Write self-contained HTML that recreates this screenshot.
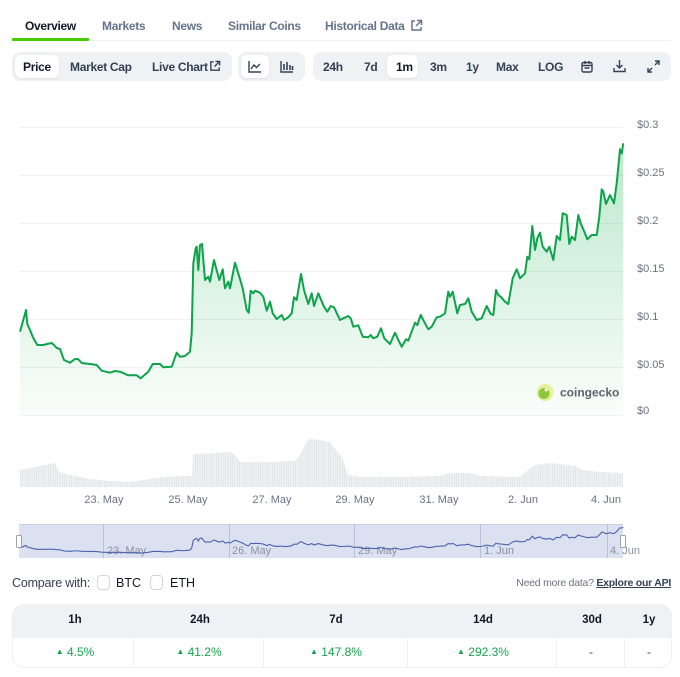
<!DOCTYPE html>
<html><head><meta charset="utf-8"><style>
*{box-sizing:border-box;margin:0;padding:0}
body{width:680px;height:677px;background:#fff;overflow:hidden;position:relative;font-family:"Liberation Sans",sans-serif;color:#1f2937}
.a{position:absolute;white-space:nowrap}
.tab{top:18px;font-size:12px;letter-spacing:-0.3px;font-weight:700;color:#64748b;line-height:16px}
.grp{background:#eff2f5;border-radius:8px;top:52px;height:29px}
.btn{top:55px;height:23px;background:#fff;border-radius:6px;box-shadow:0 1px 2px rgba(0,0,0,.08)}
.bt{top:59px;font-size:12px;letter-spacing:-0.3px;font-weight:700;color:#334155;line-height:16px}
.yl{font-size:11px;color:#6b7280;left:637px;line-height:12px}
.th{font-size:11.5px;font-weight:700;color:#111827;top:613px;line-height:14px;transform:translateX(-50%)}
.td{font-size:12px;color:#16a34a;top:645px;line-height:14px;transform:translateX(-50%)}
</style></head><body>

<!-- tabs -->
<div class="a tab" style="left:25px;color:#111827">Overview</div>
<div class="a tab" style="left:102px">Markets</div>
<div class="a tab" style="left:172px">News</div>
<div class="a tab" style="left:228px">Similar Coins</div>
<div class="a tab" style="left:325px">Historical Data</div>
<svg class="a" style="left:410px;top:19px" width="13" height="13" viewBox="0 0 13 13"><path d="M5 2H2v9h9V8M7 1.5h4.5V6M11.5 1.5L6 7" fill="none" stroke="#64748b" stroke-width="1.5"/></svg>
<div class="a" style="left:12px;top:40px;width:659px;height:1px;background:#eef0f3"></div>
<div class="a" style="left:12px;top:38px;width:77px;height:3px;background:#4bcc00;border-radius:1px"></div>

<!-- button group 1 -->
<div class="a grp" style="left:12px;width:220px"></div>
<div class="a btn" style="left:15px;width:44px"></div>
<div class="a bt" style="left:23px;color:#111827">Price</div>
<div class="a bt" style="left:70px">Market Cap</div>
<div class="a bt" style="left:152px">Live Chart</div>
<svg class="a" style="left:209px;top:60px" width="12" height="12" viewBox="0 0 13 13"><path d="M5 2H2v9h9V8M7 1.5h4.5V6M11.5 1.5L6 7" fill="none" stroke="#334155" stroke-width="1.5"/></svg>

<!-- group 2 -->
<div class="a grp" style="left:238px;width:67px"></div>
<div class="a btn" style="left:241px;width:28px"></div>
<svg class="a" style="left:248px;top:60px" width="14" height="13" viewBox="0 0 14 13"><path d="M1 1v11h12" fill="none" stroke="#334155" stroke-width="1.4"/><path d="M3 9l3-4 2.5 2.5L12 4" fill="none" stroke="#334155" stroke-width="1.4"/></svg>
<svg class="a" style="left:280px;top:60px" width="14" height="13" viewBox="0 0 14 13"><path d="M1 1v11h12" fill="none" stroke="#334155" stroke-width="1.4"/><path d="M4 10V4M7 10V2M10 10V5M12.5 10V6" stroke="#334155" stroke-width="1.6"/></svg>

<!-- group 3 -->
<div class="a grp" style="left:313px;width:358px"></div>
<div class="a btn" style="left:387px;width:31px"></div>
<div class="a bt" style="left:323px">24h</div>
<div class="a bt" style="left:364px">7d</div>
<div class="a bt" style="left:396px;color:#111827">1m</div>
<div class="a bt" style="left:430px">3m</div>
<div class="a bt" style="left:466px">1y</div>
<div class="a bt" style="left:496px">Max</div>
<div class="a bt" style="left:538px">LOG</div>
<svg class="a" style="left:581px;top:60px" width="12" height="13" viewBox="0 0 12 13"><rect x="1" y="2.5" width="10" height="9.5" rx="1.5" fill="none" stroke="#334155" stroke-width="1.4"/><path d="M1 5.5h10M4 1v3M8 1v3M3.5 8h5" stroke="#334155" stroke-width="1.4"/></svg>
<svg class="a" style="left:613px;top:59px" width="13" height="14" viewBox="0 0 13 14"><path d="M6.5 1v8M3.5 6l3 3 3-3M1 9v3.5h11V9" fill="none" stroke="#334155" stroke-width="1.4"/></svg>
<svg class="a" style="left:647px;top:60px" width="13" height="13" viewBox="0 0 13 13"><path d="M8 1h4v4M12 1L8 5M5 12H1V8M1 12l4-4" fill="none" stroke="#334155" stroke-width="1.4"/></svg>

<!-- chart -->
<svg class="a" style="left:0;top:0" width="680" height="600" viewBox="0 0 680 600">
<defs>
<linearGradient id="g" x1="0" y1="127" x2="0" y2="415" gradientUnits="userSpaceOnUse">
<stop offset="0" stop-color="#00a83e" stop-opacity="0.28"/>
<stop offset="1" stop-color="#00a83e" stop-opacity="0.02"/>
</linearGradient>
<pattern id="st" x="20" y="0" width="1.75" height="600" patternUnits="userSpaceOnUse"><rect x="0" y="0" width="1.3" height="600" fill="#e3e5e9"/></pattern>
</defs>
<g stroke="#eff1f4" stroke-width="1">
<line x1="20" y1="127.5" x2="623" y2="127.5"/>
<line x1="20" y1="175.5" x2="623" y2="175.5"/>
<line x1="20" y1="223.5" x2="623" y2="223.5"/>
<line x1="20" y1="271.5" x2="623" y2="271.5"/>
<line x1="20" y1="319.5" x2="623" y2="319.5"/>
<line x1="20" y1="367.5" x2="623" y2="367.5"/>
<line x1="20" y1="415.5" x2="623" y2="415.5"/>
</g>
<path fill="url(#g)" d="M20,331.7 L23.3,320 L26,310 L27.3,324 L30,330 L33.3,338 L37.3,345 L43.3,345 L47,344 L51.7,343 L54,345 L56.7,348 L60,349 L64,360 L70,362.7 L75,359 L78,359 L81.7,363 L90,364 L96.7,365 L101.7,370.7 L110,372.7 L115,371 L120,371.7 L128.3,375.3 L136.7,375.3 L140.7,378.3 L148.3,371.7 L152.7,364 L160,364 L163.3,367.3 L171.7,366.7 L176.7,352.7 L180,356.7 L185,356 L190,351.7 L191.7,333 L193.3,263.3 L195.7,248.3 L196.7,246.7 L198.3,270 L200,245 L202,244 L205,280 L208.3,276.7 L210,281.7 L214,260 L219.3,280 L222.7,269.3 L225,288.3 L228.3,281.7 L230,288.3 L235,262.7 L239.3,276.7 L242.7,288.3 L246.7,310 L248.7,312.7 L250.7,290.7 L253.3,293.3 L255,290.7 L260,292.7 L263.3,296.7 L266.7,310.7 L270,301.7 L272.7,313.3 L276.7,319 L281.7,315 L284,320 L288.3,317.3 L291.7,313.3 L294,297.3 L296.7,300 L301,274 L304,290 L306,296.7 L308.3,304 L311.7,293.3 L314,306 L318.3,293.3 L324,306.7 L327.3,311.7 L330.7,306 L334,307.3 L340,320 L343.3,318.3 L348.3,316 L350.7,318.3 L353.3,326.7 L358.3,325.3 L362.7,336.7 L368.3,337.3 L370.7,335 L373.3,338.3 L377.3,336.7 L381,328.3 L384.3,338.3 L390,344 L395,332.7 L398.3,340 L401.7,346.7 L406,339.3 L408.3,340.7 L415,322.7 L417.3,325 L420.7,315 L425,323.3 L428.3,329.3 L431.7,326.7 L436.7,317.3 L440,316.7 L445,313.3 L448.3,291.7 L450,296.7 L452.7,291.7 L457.3,313.3 L460,305 L465,304 L468.3,298.3 L471.7,311.7 L476.7,320 L481.7,318.3 L486.7,306 L490.7,314 L493.3,315 L496,290 L498.3,295 L500.7,296.7 L505,301.7 L508.3,304 L512.7,278.3 L516.7,269.3 L518.3,273.3 L520,278.3 L525,273.3 L527.3,256.7 L529.3,259.3 L532.3,226 L535,250 L537.3,238.3 L540,232.7 L542.7,246.7 L546.7,251.7 L549.3,246.7 L553.3,260 L556.7,236 L560,240 L562.7,213.3 L566.7,215 L569.3,244 L571.7,236.7 L575,240 L578.3,215 L580.7,223.3 L585,233.3 L587.3,239.3 L591.7,235 L596.7,235 L599.3,216.7 L601.7,189.3 L603.3,191.7 L606,204 L610,195 L614,203.3 L616.7,183.3 L620,149.3 L621.7,153.3 L623.3,143.3 L623.3,415 L20,415 Z"/>
<polyline fill="none" stroke="#0ea24a" stroke-width="2" stroke-linejoin="round" points="20,331.7 23.3,320 26,310 27.3,324 30,330 33.3,338 37.3,345 43.3,345 47,344 51.7,343 54,345 56.7,348 60,349 64,360 70,362.7 75,359 78,359 81.7,363 90,364 96.7,365 101.7,370.7 110,372.7 115,371 120,371.7 128.3,375.3 136.7,375.3 140.7,378.3 148.3,371.7 152.7,364 160,364 163.3,367.3 171.7,366.7 176.7,352.7 180,356.7 185,356 190,351.7 191.7,333 193.3,263.3 195.7,248.3 196.7,246.7 198.3,270 200,245 202,244 205,280 208.3,276.7 210,281.7 214,260 219.3,280 222.7,269.3 225,288.3 228.3,281.7 230,288.3 235,262.7 239.3,276.7 242.7,288.3 246.7,310 248.7,312.7 250.7,290.7 253.3,293.3 255,290.7 260,292.7 263.3,296.7 266.7,310.7 270,301.7 272.7,313.3 276.7,319 281.7,315 284,320 288.3,317.3 291.7,313.3 294,297.3 296.7,300 301,274 304,290 306,296.7 308.3,304 311.7,293.3 314,306 318.3,293.3 324,306.7 327.3,311.7 330.7,306 334,307.3 340,320 343.3,318.3 348.3,316 350.7,318.3 353.3,326.7 358.3,325.3 362.7,336.7 368.3,337.3 370.7,335 373.3,338.3 377.3,336.7 381,328.3 384.3,338.3 390,344 395,332.7 398.3,340 401.7,346.7 406,339.3 408.3,340.7 415,322.7 417.3,325 420.7,315 425,323.3 428.3,329.3 431.7,326.7 436.7,317.3 440,316.7 445,313.3 448.3,291.7 450,296.7 452.7,291.7 457.3,313.3 460,305 465,304 468.3,298.3 471.7,311.7 476.7,320 481.7,318.3 486.7,306 490.7,314 493.3,315 496,290 498.3,295 500.7,296.7 505,301.7 508.3,304 512.7,278.3 516.7,269.3 518.3,273.3 520,278.3 525,273.3 527.3,256.7 529.3,259.3 532.3,226 535,250 537.3,238.3 540,232.7 542.7,246.7 546.7,251.7 549.3,246.7 553.3,260 556.7,236 560,240 562.7,213.3 566.7,215 569.3,244 571.7,236.7 575,240 578.3,215 580.7,223.3 585,233.3 587.3,239.3 591.7,235 596.7,235 599.3,216.7 601.7,189.3 603.3,191.7 606,204 610,195 614,203.3 616.7,183.3 620,149.3 621.7,153.3 623.3,143.3"/>

<!-- coingecko watermark -->
<circle cx="545" cy="392.5" r="8.5" fill="#e6f19a"/>
<circle cx="544" cy="393.5" r="5.5" fill="#8dc63f"/>
<circle cx="546" cy="390" r="1.5" fill="#fff"/>
<text x="560" y="396.5" font-family="Liberation Sans" font-size="12" font-weight="700" fill="#5c6370">coingecko</text>

<!-- volume -->
<path fill="url(#st)" d="M20,487 L20,470 L30,468 L40,466 L50,464 L55,463 L58,470 L62,473 L75,476 L90,479 L110,481 L130,482 L150,479 L165,477 L185,476 L192,476 L193,454 L215,453 L230,452 L235,455 L240,462 L270,462 L295,461 L300,455 L306,442 L310,439 L320,440 L330,442 L336,450 L342,457 L348,475 L360,477 L400,477 L440,476 L450,473 L470,473 L480,476 L520,477 L528,470 L535,465 L550,463 L560,464 L575,466 L582,470 L600,472 L623,473 L623,487 Z"/>

<!-- x labels -->
<g font-family="Liberation Sans" font-size="11" fill="#6b7280" text-anchor="middle">
<text x="104" y="503">23. May</text>
<text x="188" y="503">25. May</text>
<text x="272" y="503">27. May</text>
<text x="355" y="503">29. May</text>
<text x="439" y="503">31. May</text>
<text x="523" y="503">2. Jun</text>
<text x="606" y="503">4. Jun</text>
</g>

<!-- navigator -->
<rect x="19" y="524" width="604" height="34" fill="#dbe1f1"/>
<line x1="19" y1="524.5" x2="623" y2="524.5" stroke="#c8cfe2"/>
<g stroke="#b9c1d6" stroke-width="1">
<line x1="103.5" y1="524" x2="103.5" y2="558"/>
<line x1="229.5" y1="524" x2="229.5" y2="558"/>
<line x1="354.5" y1="524" x2="354.5" y2="558"/>
<line x1="480.5" y1="524" x2="480.5" y2="558"/>
<line x1="607.5" y1="524" x2="607.5" y2="558"/>
</g>
<g font-family="Liberation Sans" font-size="11" fill="#8a90a0">
<text x="107" y="554">23. May</text>
<text x="232" y="554">26. May</text>
<text x="358" y="554">29. May</text>
<text x="484" y="554">1. Jun</text>
<text x="610" y="554">4. Jun</text>
</g>
<g transform="translate(0,511.18) scale(1,0.1106)">
<polyline fill="none" stroke="#4a62ad" stroke-width="1.1" vector-effect="non-scaling-stroke" points="20,331.7 23.3,320 26,310 27.3,324 30,330 33.3,338 37.3,345 43.3,345 47,344 51.7,343 54,345 56.7,348 60,349 64,360 70,362.7 75,359 78,359 81.7,363 90,364 96.7,365 101.7,370.7 110,372.7 115,371 120,371.7 128.3,375.3 136.7,375.3 140.7,378.3 148.3,371.7 152.7,364 160,364 163.3,367.3 171.7,366.7 176.7,352.7 180,356.7 185,356 190,351.7 191.7,333 193.3,263.3 195.7,248.3 196.7,246.7 198.3,270 200,245 202,244 205,280 208.3,276.7 210,281.7 214,260 219.3,280 222.7,269.3 225,288.3 228.3,281.7 230,288.3 235,262.7 239.3,276.7 242.7,288.3 246.7,310 248.7,312.7 250.7,290.7 253.3,293.3 255,290.7 260,292.7 263.3,296.7 266.7,310.7 270,301.7 272.7,313.3 276.7,319 281.7,315 284,320 288.3,317.3 291.7,313.3 294,297.3 296.7,300 301,274 304,290 306,296.7 308.3,304 311.7,293.3 314,306 318.3,293.3 324,306.7 327.3,311.7 330.7,306 334,307.3 340,320 343.3,318.3 348.3,316 350.7,318.3 353.3,326.7 358.3,325.3 362.7,336.7 368.3,337.3 370.7,335 373.3,338.3 377.3,336.7 381,328.3 384.3,338.3 390,344 395,332.7 398.3,340 401.7,346.7 406,339.3 408.3,340.7 415,322.7 417.3,325 420.7,315 425,323.3 428.3,329.3 431.7,326.7 436.7,317.3 440,316.7 445,313.3 448.3,291.7 450,296.7 452.7,291.7 457.3,313.3 460,305 465,304 468.3,298.3 471.7,311.7 476.7,320 481.7,318.3 486.7,306 490.7,314 493.3,315 496,290 498.3,295 500.7,296.7 505,301.7 508.3,304 512.7,278.3 516.7,269.3 518.3,273.3 520,278.3 525,273.3 527.3,256.7 529.3,259.3 532.3,226 535,250 537.3,238.3 540,232.7 542.7,246.7 546.7,251.7 549.3,246.7 553.3,260 556.7,236 560,240 562.7,213.3 566.7,215 569.3,244 571.7,236.7 575,240 578.3,215 580.7,223.3 585,233.3 587.3,239.3 591.7,235 596.7,235 599.3,216.7 601.7,189.3 603.3,191.7 606,204 610,195 614,203.3 616.7,183.3 620,149.3 621.7,153.3 623.3,143.3"/>
</g>
<rect x="16.5" y="535.5" width="5" height="12" rx="1" fill="#fff" stroke="#9aa3b5"/>
<rect x="620.5" y="535.5" width="5" height="12" rx="1" fill="#fff" stroke="#9aa3b5"/>
</svg>

<!-- y labels -->
<div class="a yl" style="top:119px">$0.3</div>
<div class="a yl" style="top:167px">$0.25</div>
<div class="a yl" style="top:215px">$0.2</div>
<div class="a yl" style="top:263px">$0.15</div>
<div class="a yl" style="top:311px">$0.1</div>
<div class="a yl" style="top:359px">$0.05</div>
<div class="a yl" style="top:405px">$0</div>

<!-- compare -->
<div class="a" style="left:12px;top:575px;font-size:12.5px;letter-spacing:-0.2px;color:#374151;line-height:16px">Compare with:</div>
<div class="a" style="left:97px;top:575px;width:13px;height:15px;border:1px solid #d1d5db;border-radius:4px"></div>
<div class="a" style="left:116px;top:575px;font-size:12.5px;color:#111827;line-height:16px">BTC</div>
<div class="a" style="left:150px;top:575px;width:13px;height:15px;border:1px solid #d1d5db;border-radius:4px"></div>
<div class="a" style="left:170px;top:575px;font-size:12.5px;color:#111827;line-height:16px">ETH</div>
<div class="a" style="right:9px;top:576px;font-size:10.5px;letter-spacing:-0.25px;color:#6b7280;line-height:14px">Need more data? <span style="color:#334155;font-weight:700;text-decoration:underline">Explore our API</span></div>

<!-- table -->
<div class="a" style="left:12px;top:604px;width:660px;height:64px;border:1px solid #eef0f3;border-radius:12px;overflow:hidden">
<div style="position:absolute;left:0;top:0;width:100%;height:33px;background:#eff2f5"></div>
</div>
<div class="a" style="left:133px;top:637px;width:1px;height:30px;background:#eef0f3"></div>
<div class="a" style="left:263px;top:637px;width:1px;height:30px;background:#eef0f3"></div>
<div class="a" style="left:407px;top:637px;width:1px;height:30px;background:#eef0f3"></div>
<div class="a" style="left:556px;top:637px;width:1px;height:30px;background:#eef0f3"></div>
<div class="a" style="left:624px;top:637px;width:1px;height:30px;background:#eef0f3"></div>
<div class="a th" style="left:75px">1h</div>
<div class="a th" style="left:200px">24h</div>
<div class="a th" style="left:336px">7d</div>
<div class="a th" style="left:483px">14d</div>
<div class="a th" style="left:592px">30d</div>
<div class="a th" style="left:649px">1y</div>
<div class="a td" style="left:75px"><span style="font-size:8px;vertical-align:2px">▲</span> 4.5%</div>
<div class="a td" style="left:199px"><span style="font-size:8px;vertical-align:2px">▲</span> 41.2%</div>
<div class="a td" style="left:336px"><span style="font-size:8px;vertical-align:2px">▲</span> 147.8%</div>
<div class="a td" style="left:483px"><span style="font-size:8px;vertical-align:2px">▲</span> 292.3%</div>
<div class="a td" style="left:591px;color:#374151">-</div>
<div class="a td" style="left:649px;color:#374151">-</div>
</body></html>
